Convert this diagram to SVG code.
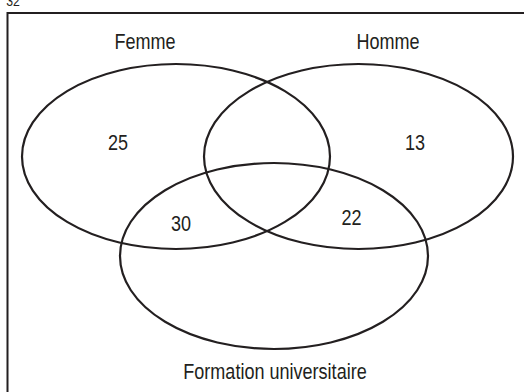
<svg xmlns="http://www.w3.org/2000/svg" width="524" height="392" viewBox="0 0 524 392">
<style>
.t{font-family:"Liberation Sans",Arial,sans-serif;font-size:22px;fill:#231f20;text-anchor:middle}
.e{fill:none;stroke:#231f20;stroke-width:2.2}
.f{fill:none;stroke:#231f20;stroke-width:2}
</style>
<rect width="524" height="392" fill="#fff"/>
<g id="frame">
<polyline class="f" points="7.5,392 7.5,13 524,13"/>
<text class="t" transform="translate(13,6) scale(0.82,1)" style="font-size:15px">32</text>
</g>
<g id="femme">
<ellipse class="e" cx="176" cy="156.5" rx="154" ry="92.5"/>
<text class="t" transform="translate(145,48.5) scale(0.82,1)">Femme</text>
<text class="t" transform="translate(118,150) scale(0.82,1)">25</text>
</g>
<g id="homme">
<ellipse class="e" cx="358.5" cy="156.5" rx="154.5" ry="92.5"/>
<text class="t" transform="translate(388,48.5) scale(0.82,1)">Homme</text>
<text class="t" transform="translate(415,150) scale(0.82,1)">13</text>
</g>
<g id="formation">
<ellipse class="e" cx="274" cy="256" rx="154" ry="93"/>
<text class="t" transform="translate(275,378.5) scale(0.82,1)">Formation universitaire</text>
</g>
<g id="intersections">
<text class="t" transform="translate(181,231) scale(0.82,1)">30</text>
<text class="t" transform="translate(351.5,225) scale(0.82,1)">22</text>
</g>
</svg>
